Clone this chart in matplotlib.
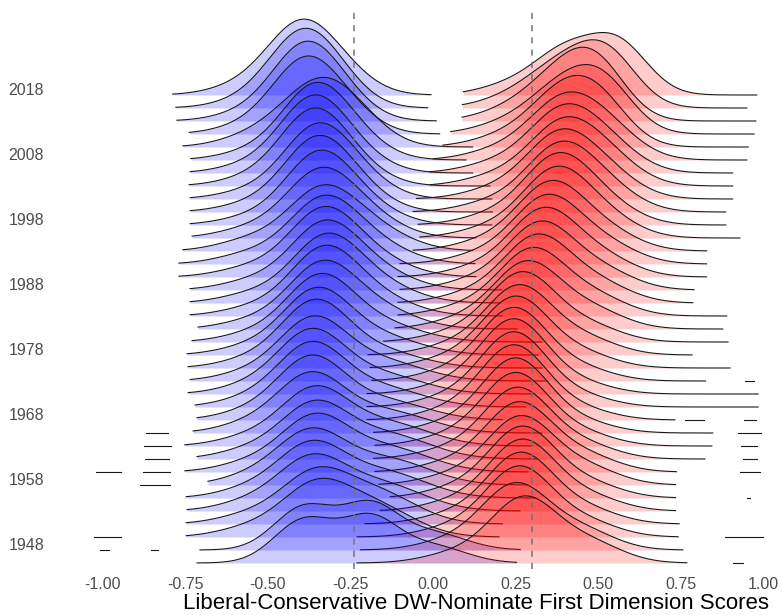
import numpy as np
import matplotlib
matplotlib.use("Agg")
import matplotlib.pyplot as plt

# ── Data ──────────────────────────────────────────────────────────────────────

YEARS = list(range(1946, 2019, 2))
YEAR_TICKS = [1948, 1958, 1968, 1978, 1988, 1998, 2008, 2018]
X_TICKS = [-1.0, -0.75, -0.5, -0.25, 0.0, 0.25, 0.5, 0.75, 1.0]

# party means (dashed lines)
D_MEAN = -0.24
R_MEAN = 0.30

# Democrats: three-part mixture per Congress (main peak, right shoulder, tail)
D_MU1 = [-0.39, -0.39, -0.36, -0.36, -0.37, -0.37, -0.37, -0.36, -0.36, -0.36, -0.37,
         -0.37, -0.37, -0.37, -0.365, -0.36, -0.355, -0.345, -0.34, -0.335, -0.33,
         -0.335, -0.34, -0.34, -0.345, -0.35, -0.35, -0.355, -0.355, -0.365, -0.365,
         -0.36, -0.355, -0.385, -0.385, -0.39, -0.395]
D_SD1 = [0.09, 0.09, 0.10, 0.10, 0.10, 0.10, 0.10, 0.10, 0.10, 0.10, 0.10,
         0.10, 0.10, 0.10, 0.10, 0.10, 0.10, 0.10, 0.10, 0.10, 0.10,
         0.10, 0.10, 0.10, 0.10, 0.10, 0.10, 0.10, 0.10, 0.10, 0.10,
         0.10, 0.11, 0.10, 0.10, 0.105, 0.105]
D_W1 = [0.42, 0.42, 0.50, 0.50, 0.52, 0.54, 0.54, 0.56, 0.56, 0.58, 0.60,
        0.64, 0.64, 0.64, 0.63, 0.67, 0.65, 0.65, 0.64, 0.65, 0.63,
        0.62, 0.62, 0.59, 0.55, 0.62, 0.70, 0.73, 0.72, 0.76, 0.76,
        0.74, 0.68, 0.78, 0.80, 0.86, 0.82]
D_MU2 = [-0.19, -0.19, -0.18, -0.17, -0.16, -0.15, -0.14, -0.14, -0.14, -0.14, -0.14,
         -0.15, -0.16, -0.16, -0.16, -0.17, -0.17, -0.17, -0.18, -0.19, -0.19,
         -0.20, -0.21, -0.21, -0.21, -0.22, -0.22, -0.23, -0.23, -0.24, -0.24,
         -0.24, -0.24, -0.25, -0.26, -0.27, -0.25]
D_SD2 = [0.085, 0.085, 0.12, 0.12, 0.13, 0.13, 0.13, 0.13, 0.13, 0.13, 0.13,
         0.13, 0.13, 0.13, 0.13, 0.13, 0.13, 0.13, 0.12, 0.12, 0.12,
         0.12, 0.12, 0.12, 0.12, 0.11, 0.11, 0.10, 0.10, 0.10, 0.10,
         0.10, 0.10, 0.09, 0.09, 0.09, 0.09]
D_W2 = [0.40, 0.40, 0.40, 0.40, 0.38, 0.36, 0.36, 0.34, 0.34, 0.32, 0.30,
        0.27, 0.27, 0.27, 0.28, 0.24, 0.26, 0.26, 0.27, 0.26, 0.27,
        0.28, 0.28, 0.30, 0.33, 0.28, 0.22, 0.19, 0.20, 0.16, 0.16,
        0.18, 0.22, 0.14, 0.12, 0.08, 0.10]
D_MU3 = [0.00, 0.00, -0.55, -0.55, -0.55, -0.55, -0.54, -0.55, -0.55, -0.55, -0.55,
         -0.55, -0.55, -0.55, -0.55, -0.55, -0.55, -0.54, -0.54, -0.54, -0.54,
         -0.54, -0.55, -0.55, -0.55, -0.55, -0.55, -0.55, -0.55, -0.55, -0.55,
         -0.55, -0.55, -0.56, -0.56, -0.57, -0.58]
D_SD3 = [0.10] * 37
D_LO = [-0.715, -0.706, -0.748, -0.748, -0.745, -0.748, -0.682, -0.752, -0.715, -0.752, -0.727,
        -0.715, -0.721, -0.742, -0.736, -0.742, -0.745, -0.730, -0.712, -0.736, -0.736,
        -0.736, -0.770, -0.770, -0.758, -0.730, -0.736, -0.736, -0.736, -0.739, -0.736,
        -0.734, -0.758, -0.739, -0.776, -0.779, -0.789]
D_HI = [0.253, 0.264, 0.200, 0.210, 0.264, 0.310, 0.284, 0.288, 0.313, 0.300, 0.330,
        0.210, 0.280, 0.300, 0.345, 0.330, 0.318, 0.330, 0.254, 0.210, 0.203,
        0.208, 0.130, 0.127, 0.120, 0.130, 0.178, 0.180, 0.178, 0.173, 0.120,
        0.100, 0.120, 0.020, 0.010, -0.016, -0.006]

# Republicans
R_MU1 = [0.275, 0.25, 0.26, 0.265, 0.27, 0.27, 0.265, 0.26, 0.255, 0.25, 0.25,
         0.245, 0.245, 0.245, 0.245, 0.25, 0.26, 0.27, 0.285, 0.30, 0.315,
         0.325, 0.335, 0.345, 0.355, 0.37, 0.375, 0.38, 0.38, 0.385, 0.385,
         0.385, 0.39, 0.39, 0.385, 0.39, 0.40]
R_SD1 = [0.10] * 36 + [0.09]
R_W1 = [0.69, 0.69, 0.74, 0.75, 0.75, 0.75, 0.72, 0.73, 0.75, 0.77, 0.79,
        0.79, 0.79, 0.79, 0.77, 0.75, 0.73, 0.73, 0.70, 0.70, 0.70,
        0.70, 0.70, 0.70, 0.70, 0.70, 0.70, 0.66, 0.64, 0.60, 0.60,
        0.56, 0.55, 0.47, 0.44, 0.42, 0.38]
R_MU2 = [0.475, 0.45, 0.46, 0.465, 0.47, 0.47, 0.465, 0.46, 0.455, 0.45, 0.45,
         0.445, 0.445, 0.445, 0.445, 0.45, 0.46, 0.47, 0.48, 0.49, 0.50,
         0.51, 0.51, 0.52, 0.52, 0.52, 0.52, 0.52, 0.52, 0.52, 0.52,
         0.52, 0.51, 0.52, 0.50, 0.53, 0.56]
R_SD2 = [0.10] * 32 + [0.09] * 5
R_W2 = [0.21, 0.21, 0.16, 0.15, 0.15, 0.15, 0.18, 0.17, 0.15, 0.13, 0.11,
        0.11, 0.11, 0.11, 0.13, 0.15, 0.17, 0.17, 0.20, 0.20, 0.20,
        0.20, 0.20, 0.20, 0.20, 0.20, 0.20, 0.24, 0.26, 0.30, 0.30,
        0.34, 0.35, 0.43, 0.46, 0.48, 0.50]
R_MU3 = [0.07, 0.06, 0.06, 0.06, 0.07, 0.07, 0.06, 0.06, 0.05, 0.05, 0.05,
         0.05, 0.05, 0.05, 0.05, 0.05, 0.06, 0.07, 0.09, 0.10, 0.12,
         0.13, 0.14, 0.15, 0.16, 0.17, 0.18, 0.18, 0.19, 0.19, 0.19,
         0.20, 0.21, 0.22, 0.23, 0.24, 0.25]
R_SD3 = [0.10] * 37
R_LO = [-0.230, -0.220, -0.230, -0.206, -0.160, -0.130, -0.164, -0.176, -0.180, -0.176, -0.180,
        -0.200, -0.200, -0.200, -0.185, -0.190, -0.197, -0.150, -0.115, -0.106, -0.106,
        -0.100, -0.106, -0.100, -0.060, -0.040, -0.045, -0.060, -0.050, -0.009, -0.010,
        0.000, 0.030, 0.054, 0.088, 0.089, 0.092]
R_HI = [0.769, 0.757, 0.743, 0.746, 0.735, 0.735, 0.735, 0.738, 0.824, 0.845, 0.848,
        0.733, 0.985, 0.985, 0.826, 0.900, 0.785, 0.894, 0.878, 0.890, 0.787,
        0.791, 0.829, 0.829, 0.829, 0.930, 0.887, 0.887, 0.908, 0.908, 0.908,
        0.951, 0.955, 0.973, 0.978, 0.951, 0.981]

# isolated outlier stubs (flat bits of density cut off from the main ridge)
D_OUT_YEAR = [1966, 1964, 1962, 1960, 1960, 1958, 1950, 1948, 1948]
D_OUT_LO = [-0.870, -0.876, -0.874, -1.021, -0.879, -0.888, -1.027, -1.009, -0.855]
D_OUT_HI = [-0.804, -0.795, -0.800, -0.946, -0.797, -0.797, -0.946, -0.982, -0.833]
R_OUT_YEAR = [1974, 1968, 1968, 1966, 1964, 1962, 1960, 1956, 1950, 1946]
R_OUT_LO = [0.945, 0.764, 0.942, 0.924, 0.933, 0.939, 0.929, 0.953, 0.885, 0.909]
R_OUT_HI = [0.973, 0.821, 0.979, 0.994, 0.982, 0.982, 0.991, 0.962, 0.999, 0.938]

# ── Style ─────────────────────────────────────────────────────────────────────

DENSITY_SCALE = 3.54        # ridge height (in years) per unit of density
LINE_COL = "#1a1a1a"
BLUE = "#0000ff"
RED = "#ff0000"
plt.rcParams["font.family"] = ["Liberation Sans", "DejaVu Sans"]


def gauss(x, mu, sd):
    return np.exp(-0.5 * ((x - mu) / sd) ** 2) / (sd * np.sqrt(2 * np.pi))


def ridge(ax, base, lo, hi, comps, color, z):
    x = np.linspace(lo, hi, 400)
    d = sum(w * gauss(x, mu, sd) for mu, sd, w in comps)
    y = base + d * DENSITY_SCALE
    ax.fill_between(x, base, y, color=color, alpha=0.2, linewidth=0, zorder=z)
    ax.plot(x, y, color=LINE_COL, linewidth=0.8, zorder=z + 0.1)


fig = plt.figure(figsize=(7.82, 6.15), dpi=100)
ax = fig.add_axes([60 / 782, 46 / 615, 709 / 782, 558 / 615])

# top ridges first so lower ones sit over them
for i in reversed(range(len(YEARS))):
    yr = YEARS[i]
    z = 2 + (len(YEARS) - i)
    w3 = 1 - D_W1[i] - D_W2[i]
    ridge(ax, yr, D_LO[i], D_HI[i],
          [(D_MU1[i], D_SD1[i], D_W1[i]), (D_MU2[i], D_SD2[i], D_W2[i]),
           (D_MU3[i], D_SD3[i], w3)], BLUE, z)
    w3 = 1 - R_W1[i] - R_W2[i]
    ridge(ax, yr, R_LO[i], R_HI[i],
          [(R_MU1[i], R_SD1[i], R_W1[i]), (R_MU2[i], R_SD2[i], R_W2[i]),
           (R_MU3[i], R_SD3[i], w3)], RED, z + 0.5)

for yr, a, b in zip(D_OUT_YEAR, D_OUT_LO, D_OUT_HI):
    ax.plot([a, b], [yr, yr], color=LINE_COL, linewidth=0.8, zorder=50)
for yr, a, b in zip(R_OUT_YEAR, R_OUT_LO, R_OUT_HI):
    ax.plot([a, b], [yr, yr], color=LINE_COL, linewidth=0.8, zorder=50)

ax.axvline(D_MEAN, color="#737373", linestyle=(0, (4, 4)), linewidth=1.1, zorder=60)
ax.axvline(R_MEAN, color="#737373", linestyle=(0, (4, 4)), linewidth=1.1, zorder=60)

# ── Axes ──────────────────────────────────────────────────────────────────────

ax.set_xlim(-1.1303, 1.0182)
ax.set_ylim(1946 - 6 / 6.5, 2018 + 84 / 6.5)
for s in ax.spines.values():
    s.set_visible(False)
ax.set_xticks(X_TICKS)
ax.set_xticklabels([f"{v:.2f}" for v in X_TICKS])
ax.set_yticks(YEAR_TICKS)
ax.set_yticklabels([str(v) for v in YEAR_TICKS])
ax.tick_params(axis="both", length=0, labelsize=11.5, labelcolor="#4d4d4d")
ax.tick_params(axis="y", pad=11.5)
ax.tick_params(axis="x", pad=6)
for lbl in ax.get_yticklabels():
    lbl.set_va("baseline")

# axis title sits flush with the right end of the panel
fig.text(769 / 782, 6 / 615, "Liberal-Conservative DW-Nominate First Dimension Scores",
         fontsize=16, color="black", ha="right", va="baseline")

fig.savefig("out.png", dpi=100)
